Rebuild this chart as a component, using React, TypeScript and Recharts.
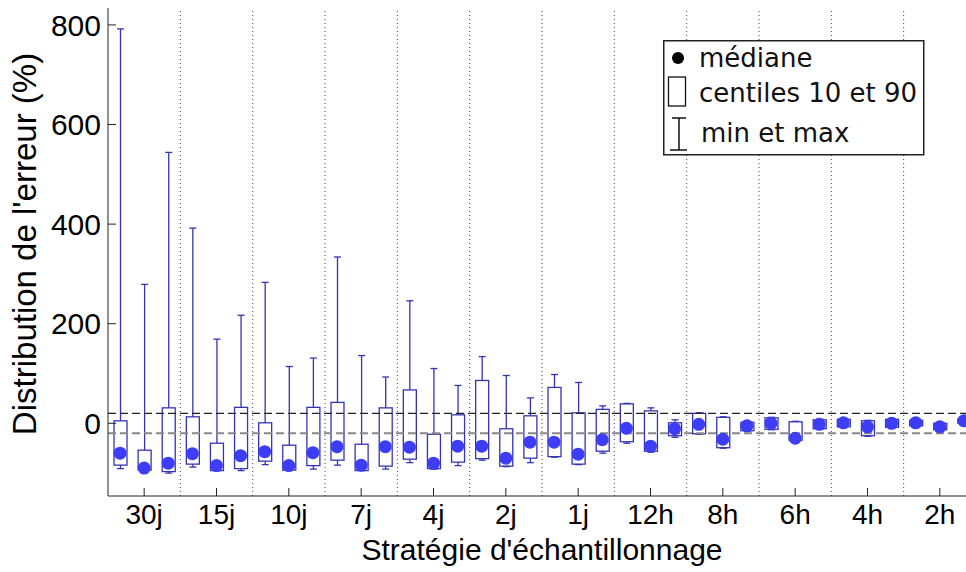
import React from "react";
import { ComposedChart, Bar, Scatter, XAxis, YAxis, ReferenceLine, Legend } from "recharts";

const GROUPS = ["30j", "15j", "10j", "7j", "4j", "2j", "1j", "12h", "8h", "6h", "4h", "2h"];

// 3 boxes per sampling strategy, values in %
const MIN_VALS = [
  -91, -95, -100, -88, -95, -95, -83, -94, -92, -84, -95, -92,
  -79, -92, -85, -74, -87, -79, -68, -83, -60, -40, -58, -28,
  -22, -50, -16, -13, -35, -12, -8, -26, -9, -6, -14, -2,
];
const P10_VALS = [
  -84, -94, -97, -82, -95, -91, -76, -94, -85, -74, -95, -86,
  -72, -91, -78, -71, -86, -70, -67, -82, -56, -37, -56, -25,
  -21, -49, -15, -12, -34, -11, -7, -25, -8, -5, -13, 0,
];
const MED_VALS = [
  -60, -90, -80, -61, -85, -65, -57, -85, -59, -47, -84, -47,
  -48, -80, -46, -46, -70, -38, -38, -62, -33, -10, -46, -11,
  -2, -32, -5, 0, -30, -2, 1, -7, 0, 1, -7, 5,
];
const P90_VALS = [
  5, -54, 31, 13, -40, 32, 1, -44, 32, 42, -42, 31,
  67, -22, 17, 86, -11, 15, 72, 21, 28, 39, 25, 1,
  20, 12, 2, 11, 3, 7, 8, 5, 8, 6, 0, 9,
];
const MAX_VALS = [
  792, 279, 544, 392, 169, 217, 283, 114, 131, 334, 136, 93,
  246, 110, 76, 134, 96, 51, 98, 82, 35, 40, 31, 7,
  21, 13, 3, 12, 4, 8, 9, 6, 9, 7, 1, 10,
];

const Y_TICKS = [0, 200, 400, 600, 800];
const LIMITS = [20, -20];

const BOX = "#3434b4";
const DOT = "#3d3df5";
const FONT = "'Liberation Sans', Arial, sans-serif";

const data = MED_VALS.map((m, i) => ({
  x: i + 0.5,
  range: [MIN_VALS[i], MAX_VALS[i]],
  lo: MIN_VALS[i],
  hi: MAX_VALS[i],
  p10: P10_VALS[i],
  p90: P90_VALS[i],
  med: m,
}));

const groupTicks = GROUPS.map((_, g) => g * 3 + 1.5);
const separators = GROUPS.map((_, g) => g * 3 + 3);

function BoxShape(props: any) {
  const { x, y, width, height, payload } = props;
  const { lo, hi, p10, p90 } = payload;
  const py = (v: number) => y + ((hi - v) / (hi - lo)) * height;
  const cx = x + width / 2;
  const cap = 3.5;
  return (
    <g stroke={BOX} strokeWidth={1.3} fill="none">
      <line x1={cx} x2={cx} y1={py(hi)} y2={py(p90)} />
      <line x1={cx - cap} x2={cx + cap} y1={py(hi)} y2={py(hi)} />
      <line x1={cx} x2={cx} y1={py(p10)} y2={py(lo)} />
      <line x1={cx - cap} x2={cx + cap} y1={py(lo)} y2={py(lo)} />
      <rect x={x} y={py(p90)} width={width} height={Math.max(1, py(p10) - py(p90))} />
    </g>
  );
}

function LegendBox() {
  const t = { fontFamily: "'DejaVu Sans', Verdana, sans-serif", fontSize: 26, fill: "#111" };
  return (
    <svg width={262} height={116} style={{ display: "block" }}>
      <rect x={0.75} y={0.75} width={260} height={114} fill="#fff" stroke="#222" strokeWidth={1.5} />
      <circle cx={15} cy={18} r={6} fill="#000" />
      <text x={36} y={27} {...t}>médiane</text>
      <rect x={5.5} y={37} width={17} height={29} fill="none" stroke="#111" strokeWidth={1.3} />
      <text x={36} y={62} {...t}>centiles 10 et 90</text>
      <g stroke="#111" strokeWidth={1.5}>
        <line x1={9} x2={23} y1={78} y2={78} />
        <line x1={16} x2={16} y1={78} y2={110} />
        <line x1={7} x2={24} y1={110} y2={110} />
      </g>
      <text x={38} y={102} {...t}>min et max</text>
    </svg>
  );
}

export default function App() {
  return (
    <div style={{ position: "fixed", left: 0, top: 0, width: 966, height: 572, overflow: "hidden", background: "#fff" }}>
      <ComposedChart width={976} height={572} data={data} margin={{ top: 8, right: 0, bottom: 16, left: 8 }}>
        <XAxis
          xAxisId="top"
          orientation="top"
          type="number"
          domain={[0, 36]}
          ticks={groupTicks}
          height={0}
          tickSize={-8}
          tickFormatter={() => ""}
          stroke="#222"
          allowDataOverflow
        />
        <XAxis
          dataKey="x"
          type="number"
          domain={[0, 36]}
          ticks={groupTicks}
          tickFormatter={(v: number) => GROUPS[Math.round((v - 1.5) / 3)]}
          height={60}
          tickSize={-8}
          tickMargin={16}
          stroke="#222"
          tick={{ fontSize: 28, fill: "#000", fontFamily: FONT }}
          label={{
            content: ({ viewBox }: any) => (
              <text
                x={viewBox.x + viewBox.width / 2}
                y={viewBox.y + 64}
                textAnchor="middle"
                fontSize={30}
                fontFamily={FONT}
                fill="#000"
              >
                Stratégie d'échantillonnage
              </text>
            ),
          }}
        />
        <YAxis
          type="number"
          domain={[-146, 834]}
          ticks={Y_TICKS}
          width={100}
          tickSize={-8}
          tickMargin={15}
          stroke="#222"
          allowDataOverflow
          tick={{ fontSize: 30, fill: "#000", fontFamily: FONT }}
          label={{
            content: ({ viewBox }: any) => {
              const cx = viewBox.x + 28;
              const cy = viewBox.y + viewBox.height / 2 - 8;
              return (
                <text
                  x={cx}
                  y={cy}
                  transform={`rotate(-90 ${cx} ${cy})`}
                  textAnchor="middle"
                  fontSize={33}
                  fontFamily={FONT}
                  fill="#000"
                >
                  Distribution de l'erreur (%)
                </text>
              );
            },
          }}
        />
        {separators.map((s) => (
          <ReferenceLine key={s} x={s} stroke="#444" strokeDasharray="1 3" strokeWidth={1} />
        ))}
        <ReferenceLine y={LIMITS[0]} stroke="#222" strokeDasharray="8 4" strokeWidth={1.2} />
        <ReferenceLine y={LIMITS[1]} stroke="#888" strokeDasharray="8 4" strokeWidth={1.8} />
        <Bar dataKey="range" barSize={13} shape={BoxShape} isAnimationActive={false} />
        <Scatter
          dataKey="med"
          isAnimationActive={false}
          shape={(p: any) => <circle cx={p.cx} cy={p.cy} r={6.5} fill={DOT} />}
        />
        <Legend
          layout="vertical"
          align="center"
          verticalAlign="middle"
          content={() => <LegendBox />}
          wrapperStyle={{ position: "absolute", left: 663, top: 40, width: 262, height: 116 }}
        />
      </ComposedChart>
    </div>
  );
}
